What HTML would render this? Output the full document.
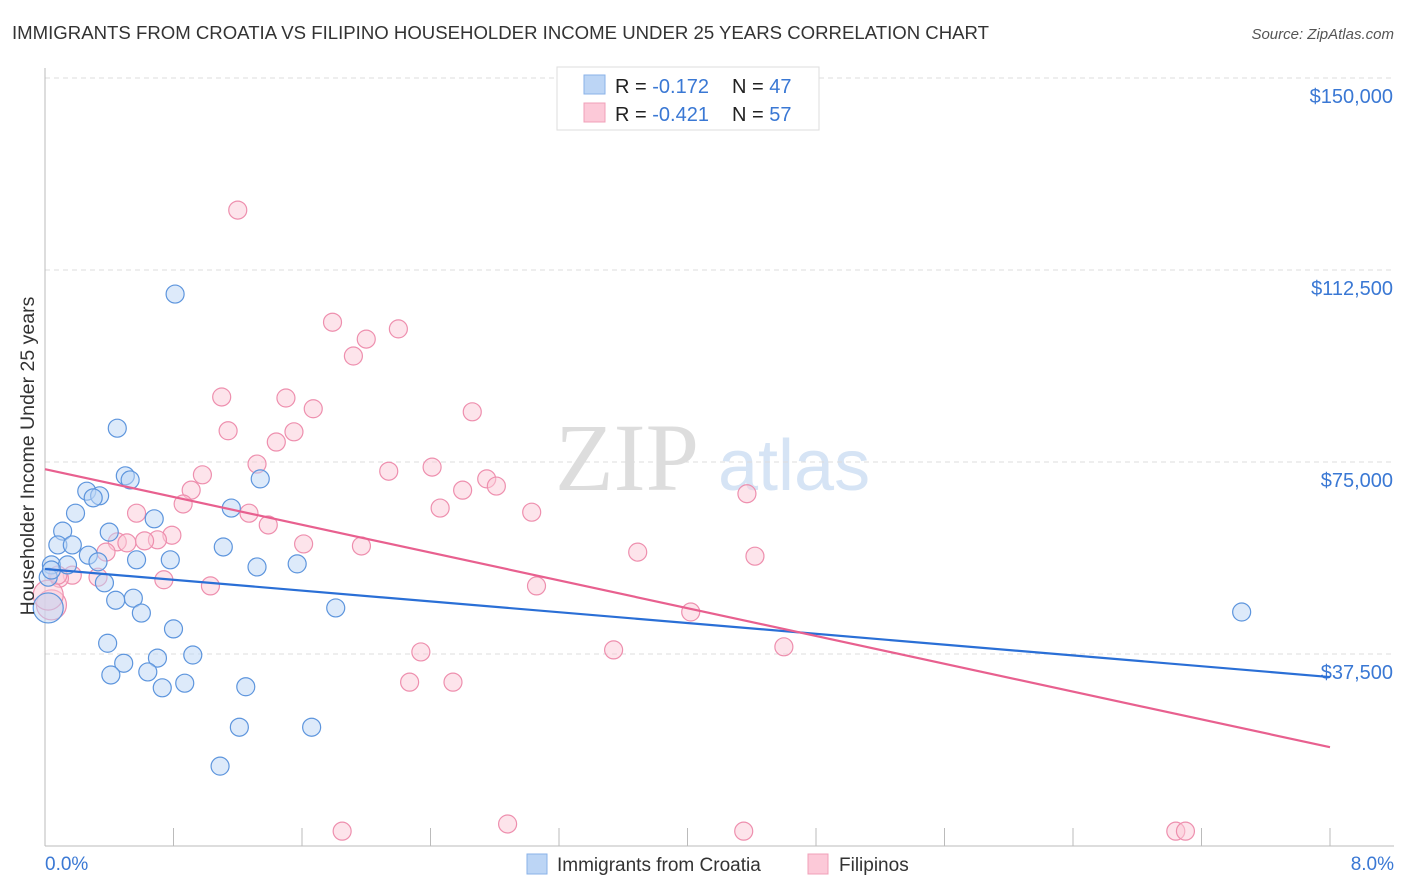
<!DOCTYPE html>
<html><head><meta charset="utf-8"><style>
body{margin:0;background:#fff;font-family:"Liberation Sans",sans-serif;}
</style></head><body>
<svg id="chart" width="1406" height="892" xmlns="http://www.w3.org/2000/svg" style="display:block">
<text x="12" y="39" font-size="18.6" fill="#333">IMMIGRANTS FROM CROATIA VS FILIPINO HOUSEHOLDER INCOME UNDER 25 YEARS CORRELATION CHART</text>
<text x="1394" y="39" font-size="15" fill="#555" font-style="italic" text-anchor="end">Source: ZipAtlas.com</text>
<g>
<text x="555" y="490" font-size="96" fill="#ddd" font-family="Liberation Serif,serif">ZIP</text>
<text x="718" y="490" font-size="72" fill="#d6e4f5">atlas</text>
</g>
<g id="grid"></g><g id="axes"></g><g id="marks"></g><g id="lines"></g>
<text transform="translate(34,456) rotate(-90)" font-size="19.5" fill="#333" text-anchor="middle">Householder Income Under 25 years</text>
<g>
<rect x="557" y="67" width="262" height="63" fill="#fff" stroke="#ddd"/>
<rect x="584" y="75" width="21" height="19" fill="#bcd5f5" stroke="#8ab2e8"/>
<rect x="584" y="103" width="21" height="19" fill="#fcc9d8" stroke="#f0a0b8"/>
<text x="615" y="93" font-size="20" fill="#222">R = <tspan fill="#3a78d4">-0.172</tspan><tspan x="732">N = </tspan><tspan fill="#3a78d4">47</tspan></text>
<text x="615" y="121" font-size="20" fill="#222">R = <tspan fill="#3a78d4">-0.421</tspan><tspan x="732">N = </tspan><tspan fill="#3a78d4">57</tspan></text>
</g>
<g>
<rect x="527" y="854" width="20" height="20" fill="#bcd5f5" stroke="#8ab2e8"/>
<text x="557" y="871" font-size="19" fill="#333">Immigrants from Croatia</text>
<rect x="808" y="854" width="20" height="20" fill="#fcc9d8" stroke="#f0a0b8"/>
<text x="839" y="871" font-size="19" fill="#333">Filipinos</text>
</g>
</svg>
<script>
const yTicks=[37500,75000,112500,150000];
const yTickLabels=["$37,500","$75,000","$112,500","$150,000"];
const xTickLabels=["0.0%","8.0%"];
const croatiaX=[0.81,0.45,0.50,0.53,0.26,0.34,0.30,0.19,0.68,1.16,1.34,0.11,0.40,0.08,0.17,1.11,0.27,0.33,0.78,0.57,1.32,1.57,0.04,0.14,0.02,0.37,0.55,0.44,0.60,1.81,0.39,0.80,0.92,0.49,0.70,0.64,0.41,0.87,0.73,1.25,1.21,1.66,1.09,7.45,0.02,0.04];
const croatiaY=[107.8,81.6,72.3,71.5,69.3,68.4,68.0,65.0,63.9,66.0,71.7,61.5,61.3,58.8,58.8,58.4,56.8,55.5,55.9,55.9,54.5,55.1,54.9,54.9,52.5,51.4,48.4,48.0,45.5,46.5,39.6,42.4,37.3,35.7,36.7,34.0,33.4,31.8,30.9,31.1,23.2,23.2,15.6,45.7,46.5,53.9];
const croatiaBig=[44];
const filX=[1.20,1.79,2.20,2.00,1.92,1.10,1.50,2.66,1.67,1.14,1.55,1.44,1.32,2.14,2.41,0.98,0.91,2.60,2.75,2.81,4.37,2.46,0.86,0.57,1.27,3.03,1.39,0.79,0.70,0.45,0.51,0.62,1.61,1.97,3.69,4.42,0.38,0.74,3.06,1.03,0.33,0.17,0.09,4.02,2.34,3.54,4.60,2.27,2.54,1.85,2.88,4.35,7.04,7.10,0.04,0.02,0.08];
const filY=[124.2,102.3,101.0,99.0,95.7,87.7,87.5,84.8,85.4,81.1,80.9,78.9,74.6,73.2,74.0,72.5,69.5,69.5,71.7,70.3,68.8,66.0,66.8,65.0,65.0,65.2,62.7,60.7,59.8,59.4,59.2,59.6,59.0,58.6,57.4,56.6,57.4,52.0,50.8,50.8,52.5,52.9,52.3,45.7,37.9,38.3,38.9,32.0,32.0,2.9,4.3,2.9,2.9,2.9,47.1,49.0,52.9];
const filBig=[54,55];
const croatiaTrend=[54.1,33.0];
const filTrend=[73.6,19.3];
const NS="http://www.w3.org/2000/svg";
const X0=45,X1=1330,Y0=846,PX=192/37500;
const sx=v=>X0+(v/8)*(X1-X0);
const sy=v=>Y0-v*PX;
function mk(tag,attrs,parent){const e=document.createElementNS(NS,tag);for(const k in attrs)e.setAttribute(k,attrs[k]);document.getElementById(parent).appendChild(e);return e;}
yTicks.forEach((t,i)=>{
 const g=mk('line',{x1:X0,x2:1394,y1:sy(t),y2:sy(t),stroke:'#ddd','stroke-dasharray':'5,4'},'grid');
 
 
 const tx=mk('text',{x:1393,y:sy(t)+25,'font-size':20,fill:'#3a78d4','text-anchor':'end'},'axes');
 tx.textContent=yTickLabels[i];
 
 
});
const ya=mk('line',{x1:X0,x2:X0,y1:68,y2:Y0,stroke:'#bbb'},'axes');


const xa=mk('line',{x1:X0,x2:1394,y1:Y0,y2:Y0,stroke:'#bbb'},'axes');


for(let i=0;i<=10;i++){
 const t=mk('line',{x1:sx(i*0.8),x2:sx(i*0.8),y1:828,y2:Y0,stroke:'#bbb'},'axes');
 
 
}
[[0,'start',45],[8,'end',1394]].forEach((d,i)=>{
 const t=mk('text',{x:d[2],y:870,'font-size':19,fill:'#3a78d4','text-anchor':d[1]},'axes');
 t.textContent=xTickLabels[i];
 
 
});
function pts(xs,ys,big,fill,stroke,name){
 xs.forEach((x,i)=>{
  const c=mk('circle',{cx:sx(x),cy:sy(ys[i]*1000),r:big.includes(i)?15:9,fill:fill,'fill-opacity':0.5,stroke:stroke,'stroke-width':1.2},'marks');
  
  
 });
}
pts(filX,filY,filBig,'#fcc9d8','#ee8fae','filipinos-point');
pts(croatiaX,croatiaY,croatiaBig,'#bcd5f5','#5d95dd','croatia-point');
const l1=mk('line',{x1:sx(0),y1:sy(croatiaTrend[0]*1000),x2:sx(8),y2:sy(croatiaTrend[1]*1000),stroke:'#2a6fd6','stroke-width':2.2},'lines');


const l2=mk('line',{x1:sx(0),y1:sy(filTrend[0]*1000),x2:sx(8),y2:sy(filTrend[1]*1000),stroke:'#e8608f','stroke-width':2.2},'lines');


</script>
</body></html>
